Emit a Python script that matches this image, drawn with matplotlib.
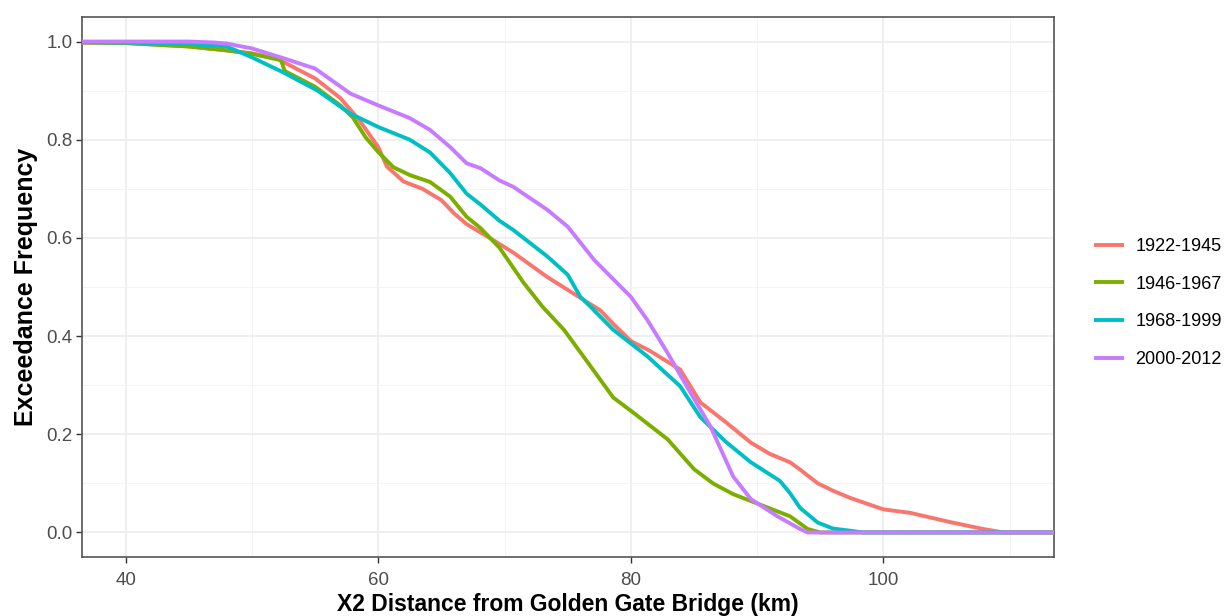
import matplotlib
matplotlib.use("Agg")
import matplotlib.pyplot as plt
from matplotlib.ticker import MultipleLocator, FormatStrFormatter

plt.rcParams['font.family'] = ['Liberation Sans', 'DejaVu Sans']

series_labels = ["1922-1945", "1946-1967", "1968-1999", "2000-2012"]
series_colors = ["#F8766D", "#7CAE00", "#00BFC4", "#C77CFF"]

x_1922 = [30, 40, 45, 48, 50, 52, 55, 57, 58.5, 60, 60.7, 62, 63.5, 65, 66, 67, 68.5,
          70.7, 73.4, 76, 77.6, 78.6, 80, 81.5, 83.9, 85.5, 87.5, 89.5, 91, 92.6, 93.4,
          94.8, 96, 97.4, 100, 102.1, 105.3, 107.9, 109.5, 120]
y_1922 = [1.0, 0.997, 0.99, 0.982, 0.976, 0.965, 0.925, 0.885, 0.84, 0.785, 0.745, 0.715,
          0.700, 0.677, 0.65, 0.628, 0.605, 0.57, 0.52, 0.478, 0.452, 0.425, 0.39, 0.37,
          0.332, 0.265, 0.225, 0.183, 0.16, 0.143, 0.128, 0.10, 0.085, 0.07, 0.047, 0.04,
          0.021, 0.007, 0.0, 0.0]

x_1946 = [30, 40, 45, 48, 50, 52.3, 52.6, 55, 57, 58, 59, 60, 61.2, 62.5, 64.1, 65.7, 67,
          68.1, 69.6, 71.5, 73, 74.7, 76.6, 78.6, 80.2, 82.9, 85, 86.5, 88.1, 90.8, 92.6,
          94, 95, 120]
y_1946 = [1.0, 0.997, 0.99, 0.982, 0.975, 0.962, 0.94, 0.908, 0.87, 0.845, 0.805, 0.775,
          0.744, 0.728, 0.714, 0.684, 0.643, 0.62, 0.58, 0.509, 0.46, 0.413, 0.346, 0.275,
          0.244, 0.19, 0.129, 0.10, 0.078, 0.051, 0.033, 0.007, 0.0, 0.0]

x_1968 = [30, 40, 45, 48, 49.9, 52.5, 55.2, 57.8, 60, 62.5, 64.1, 65.7, 67, 68.1, 69.6,
          70.7, 73.4, 75, 76, 76.8, 78.6, 81.3, 83.9, 85.5, 87.5, 89.5, 91.8, 92.6, 93.4,
          94.8, 96, 98.4, 120]
y_1968 = [1.0, 0.998, 0.995, 0.99, 0.969, 0.937, 0.90, 0.853, 0.826, 0.80, 0.774, 0.732,
          0.69, 0.668, 0.635, 0.616, 0.562, 0.525, 0.48, 0.46, 0.413, 0.359, 0.298, 0.235,
          0.185, 0.143, 0.105, 0.08, 0.05, 0.02, 0.008, 0.0, 0.0]

x_2000 = [30, 40, 45, 47, 48, 50, 52.5, 55, 57.8, 60, 62.5, 64.1, 65.7, 67, 68.1, 69.6,
          70.7, 73.4, 75, 77.1, 80, 81.3, 82.9, 84.6, 86.3, 88.1, 89.5, 91.6, 93.4, 94, 120]
y_2000 = [1.0, 1.0, 1.0, 0.998, 0.996, 0.986, 0.966, 0.945, 0.894, 0.87, 0.844, 0.82,
          0.785, 0.752, 0.742, 0.717, 0.704, 0.657, 0.623, 0.555, 0.48, 0.433, 0.366, 0.29,
          0.216, 0.114, 0.068, 0.033, 0.007, 0.0, 0.0]

x_ticks = [40, 60, 80, 100]
y_ticks = [0.0, 0.2, 0.4, 0.6, 0.8, 1.0]

W, H = 1226, 616
fig = plt.figure(figsize=(W / 100, H / 100), dpi=100)
left, right, top, bottom = 82, 1054, 17, 557
ax = fig.add_axes([left / W, 1 - bottom / H, (right - left) / W, (bottom - top) / H])

all_x = [x_1922, x_1946, x_1968, x_2000]
all_y = [y_1922, y_1946, y_1968, y_2000]
for xs, ys, lab, col in zip(all_x, all_y, series_labels, series_colors):
    ax.plot(xs, ys, color=col, lw=2.8, label=lab, solid_capstyle='butt',
            solid_joinstyle='round', zorder=3)

ax.set_xlim(36.55, 113.5)
ax.set_ylim(-0.05, 1.05)
ax.set_xticks(x_ticks)
ax.set_yticks(y_ticks)
ax.yaxis.set_major_formatter(FormatStrFormatter('%.1f'))
ax.xaxis.set_minor_locator(MultipleLocator(10))
ax.yaxis.set_minor_locator(MultipleLocator(0.1))
ax.grid(which='major', color='#EBEBEB', lw=1.1, zorder=0)
ax.grid(which='minor', color='#F2F2F2', lw=0.6, zorder=0)
ax.set_axisbelow(True)
for s in ax.spines.values():
    s.set_color('#555555')
    s.set_linewidth(1.2)
ax.tick_params(which='major', length=4, width=1, color='#333333',
               labelcolor='#4D4D4D', labelsize=13.5)
ax.tick_params(axis='x', which='major', pad=7)
ax.tick_params(axis='y', which='major', pad=3)
ax.tick_params(which='minor', length=0)

fig.text(568 / W, 1 - 604 / H, "X2 Distance from Golden Gate Bridge (km)",
         fontsize=16.5, fontweight='bold', ha='center', va='center')
ax.set_ylabel("Exceedance Frequency", fontsize=18, fontweight='bold', labelpad=6)

fig.legend(loc='center left', bbox_to_anchor=(1094 / W, 1 - 303 / H), frameon=False,
           fontsize=13, handlelength=1.65, handletextpad=0.65, labelspacing=1.14,
           borderpad=0, borderaxespad=0)

fig.savefig("out.png", dpi=100)
